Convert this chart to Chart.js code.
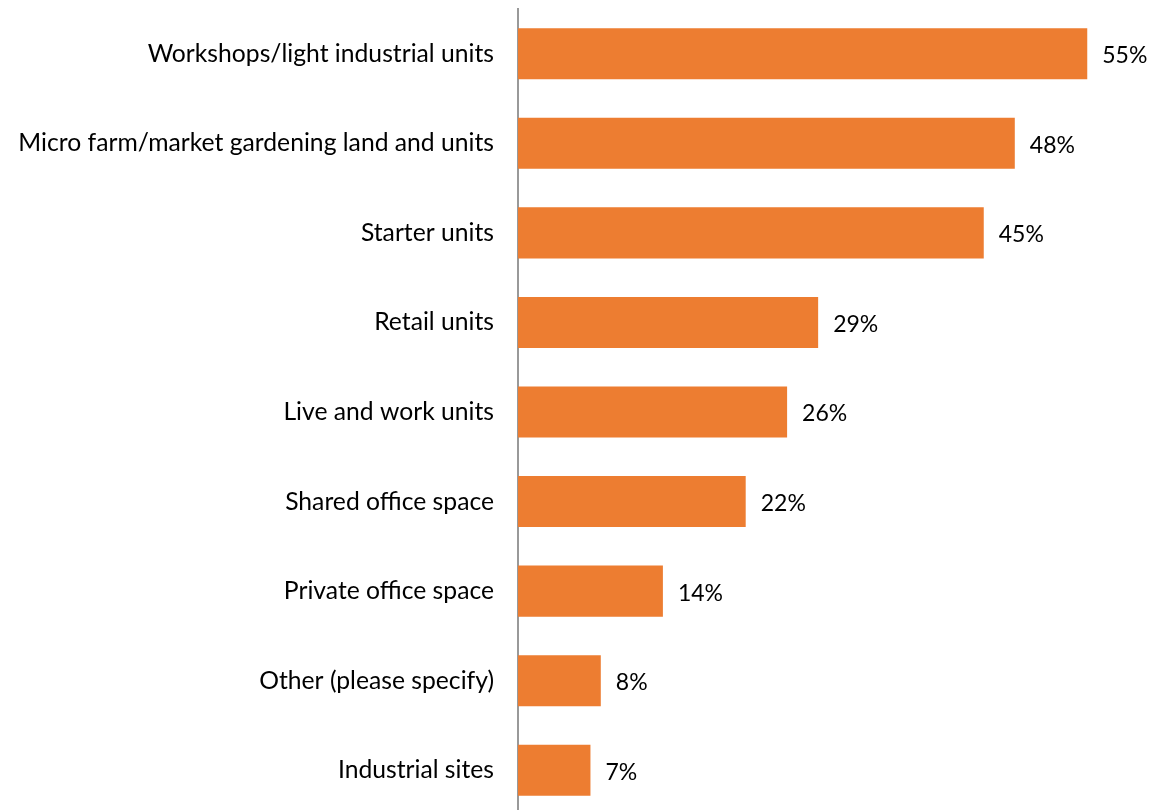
<!DOCTYPE html>
<html>
<head>
<meta charset="utf-8">
<script src="https://cdn.jsdelivr.net/npm/chart.js@4/dist/chart.umd.min.js"></script>
<style>
  html, body { margin: 0; padding: 0; background: #fff; overflow: hidden; }
  #wrap { width: 1156px; height: 815px; }
</style>
</head>
<body>
<div id="wrap"><canvas id="chart"></canvas></div>
<script>
// カテゴリと値
const categories = [
    "Workshops/light industrial units",
    "Micro farm/market gardening land and units",
    "Starter units",
    "Retail units",
    "Live and work units",
    "Shared office space",
    "Private office space",
    "Other (please specify)",
    "Industrial sites"
];
const percentValues = [55, 48, 45, 29, 26, 22, 14, 8, 7];

const FONT = 'Lato, "Open Sans", sans-serif';

// バーの右側に値ラベルを描く
const valueLabels = {
    id: 'valueLabels',
    afterDatasetsDraw(chart) {
        const ctx = chart.ctx;
        const meta = chart.getDatasetMeta(0);
        ctx.save();
        ctx.font = '23px ' + FONT;
        ctx.fillStyle = '#000';
        ctx.textBaseline = 'middle';
        ctx.textAlign = 'left';
        meta.data.forEach((bar, i) => {
            ctx.fillText(percentValues[i] + '%', bar.x + 15, bar.y + 2);
        });
        ctx.restore();
    }
};

const ctx = document.getElementById('chart').getContext('2d');
new Chart(ctx, {
    type: 'bar',
    data: {
        labels: categories,
        datasets: [{
            data: percentValues,
            backgroundColor: '#ED7D31',
            barPercentage: 0.57,
            categoryPercentage: 1.0
        }]
    },
    options: {
        indexAxis: 'y',
        responsive: true,
        maintainAspectRatio: false,
        animation: false,
        layout: { padding: { top: 9, right: 17, bottom: 0, left: 0 } },
        plugins: {
            legend: { display: false },
            tooltip: { enabled: false }
        },
        scales: {
            x: {
                display: false,
                min: 0,
                max: 60
            },
            y: {
                grid: { display: false, drawTicks: false },
                border: { display: true, color: '#999', width: 2 },
                ticks: {
                    color: '#000',
                    padding: 24,
                    font: { family: FONT, size: 24.7 }
                },
                // 軸の位置と上下の余白を固定
                afterFit(scale) {
                    scale.width = 518;
                    scale.paddingTop = 0;
                    scale.paddingBottom = 0;
                }
            }
        }
    },
    plugins: [valueLabels]
});
</script>
</body>
</html>
